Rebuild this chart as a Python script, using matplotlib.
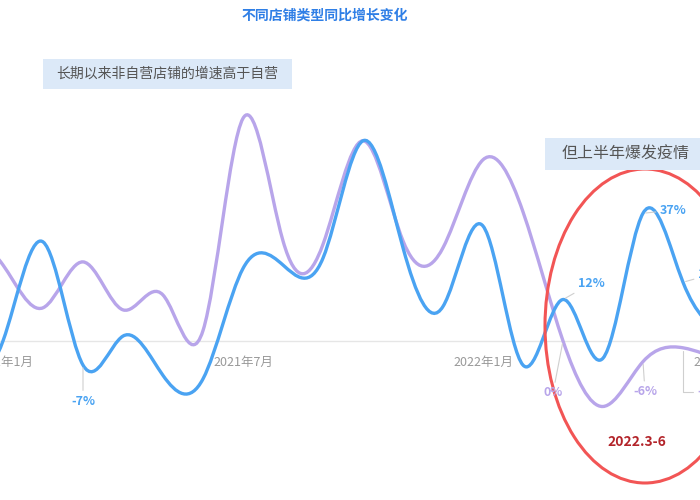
import matplotlib
matplotlib.use("Agg")
import matplotlib.pyplot as plt
import numpy as np
from matplotlib.path import Path
from matplotlib.patches import PathPatch, Ellipse, Rectangle

plt.rcParams['font.family'] = ['Noto Sans CJK SC', 'DejaVu Sans']

# month index: 0 = 2021年1月
months = list(range(-1, 19))
self_run = [-12, 0, 28.7, -7, 1.4, -10, -11, 21, 22, 24, 58, 27, 10, 33.3, -7, 12, -5, 37, 17, 2]
third_party = [32, 22, 9.6, 22.9, 9, 13.3, 3, 64.5, 29, 28, 58, 29, 27, 52.5, 37.4, 0, -19, -6, -2, -6]
tick_months = [0, 6, 12, 18]
tick_labels = ['2021年1月', '2021年7月', '2022年1月', '2022年7月']

BLUE = '#4aa3f2'
PURPLE = '#b8a5ea'


def smooth_path(xs, ys):
    # natural cubic spline through the points, drawn as bezier segments
    x = np.asarray(xs, float)
    y = np.asarray(ys, float)
    n = len(x)
    h = np.diff(x)
    A = np.zeros((n, n))
    r = np.zeros(n)
    A[0, 0] = A[-1, -1] = 1
    for i in range(1, n - 1):
        A[i, i - 1] = h[i - 1]
        A[i, i] = 2 * (h[i - 1] + h[i])
        A[i, i + 1] = h[i]
        r[i] = 6 * ((y[i + 1] - y[i]) / h[i] - (y[i] - y[i - 1]) / h[i - 1])
    M = np.linalg.solve(A, r)
    d = np.zeros(n)
    d[:-1] = (y[1:] - y[:-1]) / h - h * (2 * M[:-1] + M[1:]) / 6
    d[-1] = (y[-1] - y[-2]) / h[-1] + h[-1] * (M[-2] + 2 * M[-1]) / 6
    verts = [(x[0], y[0])]
    codes = [Path.MOVETO]
    for i in range(n - 1):
        k = h[i] / 3
        verts += [(x[i] + k, y[i] + k * d[i]),
                  (x[i + 1] - k, y[i + 1] - k * d[i + 1]),
                  (x[i + 1], y[i + 1])]
        codes += [Path.CURVE4] * 3
    return Path(verts, codes)


fig = plt.figure(figsize=(7, 5), dpi=100)
ax = fig.add_axes([0, 0, 1, 1])
ax.set_xlim(-0.075, 17.425)
ax.set_ylim(-46.1, 98.8)
ax.axis('off')

ax.axhline(0, color='#e6e6e6', lw=1, zorder=1)
for m, lab in zip(tick_months, tick_labels):
    ax.annotate(lab, xy=(m, 0), xytext=(0, -22), textcoords='offset pixels',
                ha='center', va='center', fontsize=9, color='#999999',
                annotation_clip=False)

ax.add_patch(PathPatch(smooth_path(months, third_party), fill=False,
                       edgecolor=PURPLE, lw=2.4, zorder=3))
ax.add_patch(PathPatch(smooth_path(months, self_run), fill=False,
                       edgecolor=BLUE, lw=2.4, zorder=4))

# data labels with leader lines
lead = dict(arrowstyle='-', color='#cfcfcf', lw=0.8, shrinkA=1, shrinkB=2)


def label(m, series, text, dx, dy, color, ha='center', conn=None):
    v = series[months.index(m)]
    props = dict(lead)
    if conn:
        props['connectionstyle'] = conn
    ax.annotate(text, xy=(m, v), xytext=(dx, dy), textcoords='offset pixels',
                ha=ha, va='center', fontsize=9, fontweight='bold', color=color,
                arrowprops=props, annotation_clip=False, zorder=6)


label(2, self_run, '-7%', 0, -36, BLUE)
label(14, self_run, '12%', 15, 16, BLUE, ha='left')
label(16, self_run, '37%', 17, 3, BLUE, ha='left')
label(17, self_run, '17%', 15, 8, BLUE, ha='left')
label(14, third_party, '0%', -10, -52, PURPLE)
label(16, third_party, '-6%', 2, -30, PURPLE)
label(17, third_party, '-2%', 14, -44, PURPLE, ha='left',
      conn='angle,angleA=0,angleB=90,rad=0')

# red highlight ellipse for 2022.3-6
ax.add_patch(Ellipse((645 / 700, 1 - 326 / 500), 200 / 700, 314 / 500,
                     transform=ax.transAxes, fill=False, edgecolor='#f25555',
                     lw=2.2, zorder=5))
fig.text(637 / 700, 1 - 442 / 500, '2022.3-6', ha='center', va='center',
         fontsize=10, fontweight='bold', color='#b3242a')

# title
fig.text(325 / 700, 1 - 16 / 500, '不同店铺类型同比增长变化', ha='center', va='center',
         fontsize=10, fontweight='bold', color='#2f7fe6')

# annotation boxes
fig.patches.append(Rectangle((43 / 700, 1 - 89 / 500), 249 / 700, 30 / 500,
                             transform=fig.transFigure, facecolor='#dce9f8',
                             edgecolor='none', zorder=0))
fig.text(167 / 700, 1 - 74 / 500, '长期以来非自营店铺的增速高于自营', ha='center',
         va='center', fontsize=10, color='#555555')
fig.patches.append(Rectangle((545 / 700, 1 - 170 / 500), 200 / 700, 32 / 500,
                             transform=fig.transFigure, facecolor='#dce9f8',
                             edgecolor='none', zorder=0))
fig.text(562 / 700, 1 - 154 / 500, '但上半年爆发疫情', ha='left',
         va='center', fontsize=11.5, color='#555555')

fig.savefig('out.png', dpi=100)
